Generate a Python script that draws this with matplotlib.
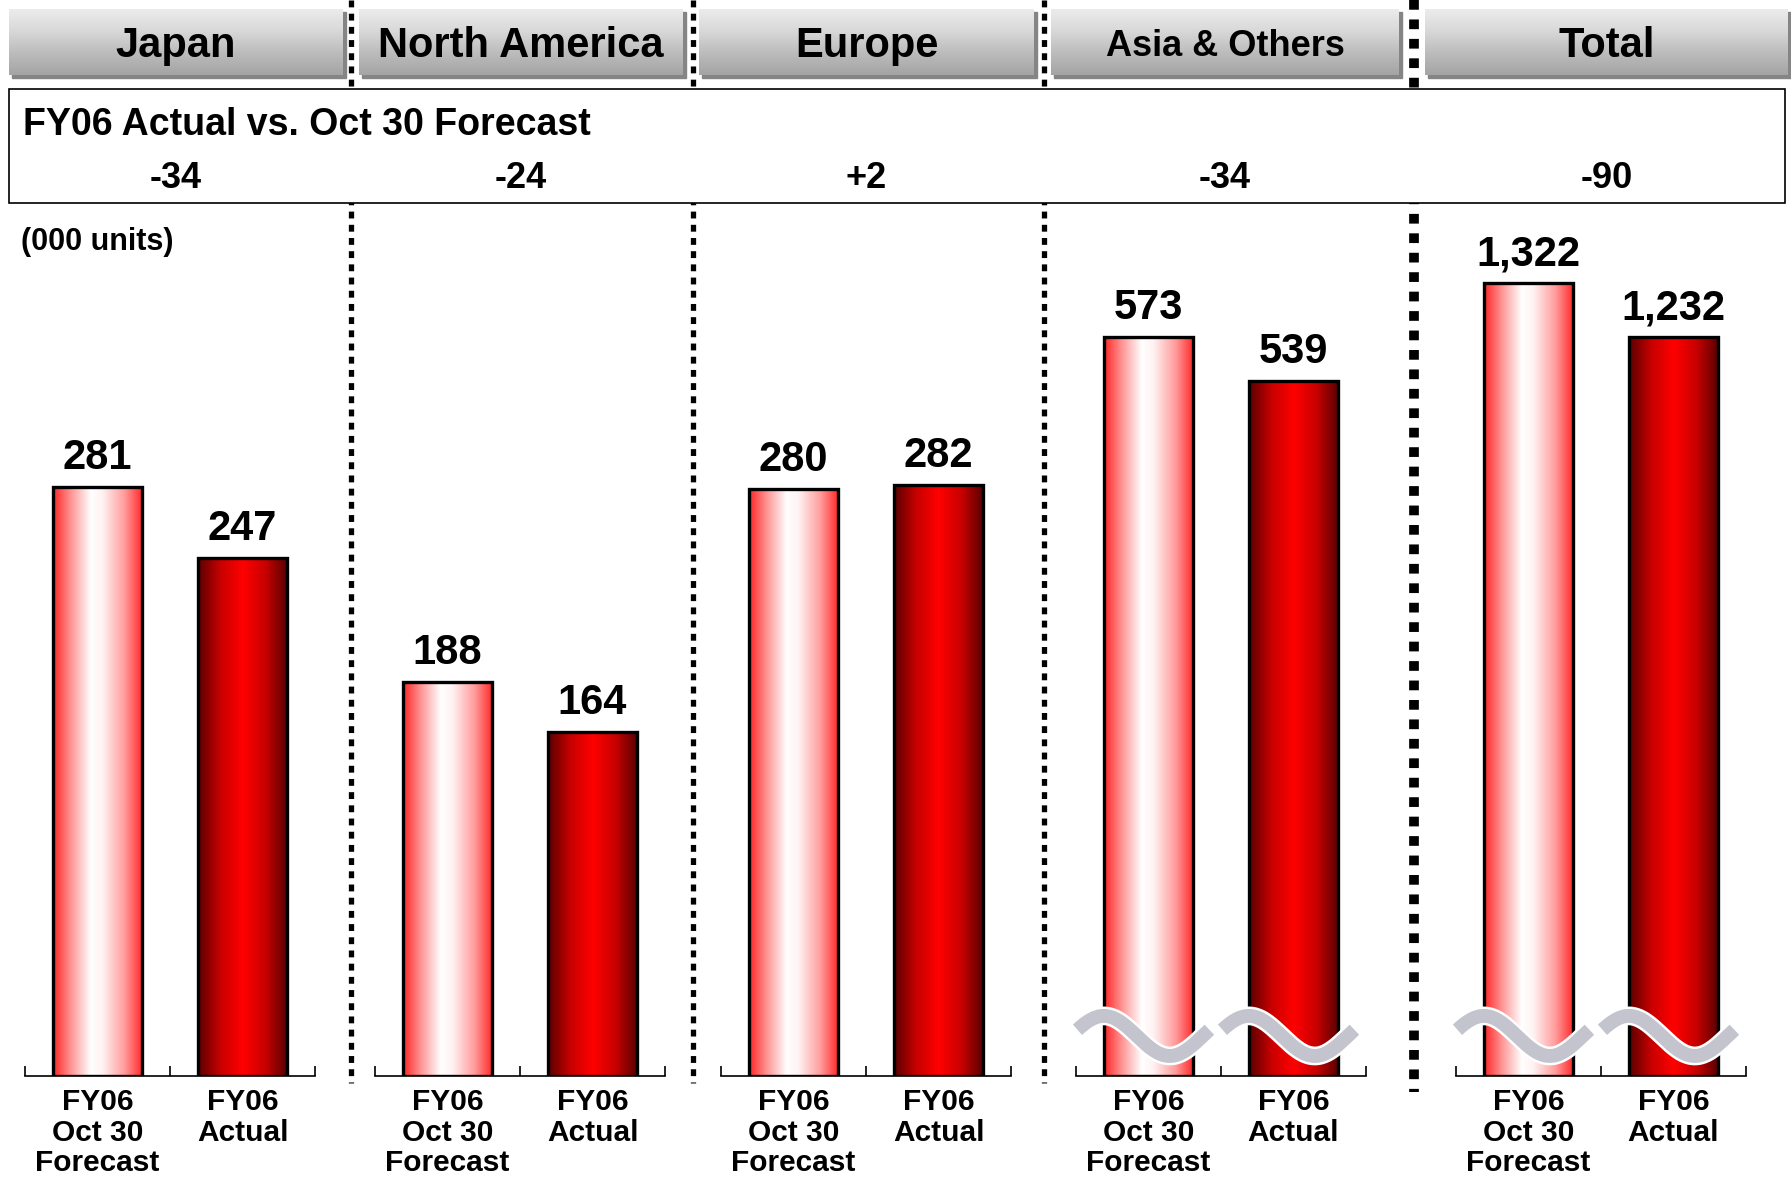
import numpy as np
import matplotlib
matplotlib.use("Agg")
import matplotlib.pyplot as plt
from matplotlib.colors import LinearSegmentedColormap
from matplotlib.patches import Rectangle
from matplotlib.transforms import blended_transform_factory
import matplotlib.patheffects as pe

plt.rcParams['font.family'] = ['Liberation Sans', 'DejaVu Sans']
plt.rcParams['font.weight'] = 'bold'

# ---------------- data ----------------
regions = ["Japan", "North America", "Europe", "Asia & Others", "Total"]
forecast = [281, 188, 280, 573, 1322]
actual = [247, 164, 282, 539, 1232]
diff_labels = ["-34", "-24", "+2", "-34", "-90"]
bar_labels = ["FY06\nOct 30\nForecast", "FY06\nActual"]
broken = [False, False, False, True, True]
ymax = [415.6, 415.6, 415.6, 675.3, 1452.6]
title = "FY06 Actual vs. Oct 30 Forecast"
unit_label = "(000 units)"

W, H = 1791, 1177
fig = plt.figure(figsize=(W / 100, H / 100), dpi=100)
bg = fig.add_axes([0, 0, 1, 1])
bg.set_xlim(0, W)
bg.set_ylim(H, 0)
bg.axis('off')

# layout (pixels)
tabs_x = [(9, 343), (359, 683), (699, 1034), (1051, 1399), (1425, 1788)]
tab_y = (9, 75)
tab_fs = [30, 30, 30, 26, 30]
box = (9, 89, 1785, 203)
seps = [(351, 'thin'), (693, 'thin'), (1044, 'thin'), (1414, 'thick')]
axes_x = [(25, 315), (375, 665), (721, 1011), (1076, 1366), (1456, 1746)]
base_y, top_y = 1076, 205

# separators
for x, kind in seps:
    if kind == 'thin':
        bg.plot([x, x], [0, 1083], color='black', lw=3.8, ls=(0, (1.3, 1.2)),
                solid_capstyle='butt', dash_capstyle='butt', zorder=1)
    else:
        bg.plot([x, x], [0, 1092], color='black', lw=7.0, ls=(0, (1.0, 1.0)),
                dash_capstyle='butt', zorder=1)

# tabs
tab_cmap = LinearSegmentedColormap.from_list('tab', ['#ececec', '#d8d8d8', '#bcbcbc', '#a4a4a4'])
grad_v = np.linspace(0, 1, 256).reshape(-1, 1)
for (x0, x1), name, fs in zip(tabs_x, regions, tab_fs):
    y0, y1 = tab_y
    bg.add_patch(Rectangle((x0 + 3, y0 + 3), x1 - x0, y1 - y0, color='#858585', zorder=2))
    bg.imshow(grad_v, cmap=tab_cmap, extent=(x0, x1, y1, y0), origin='upper',
              aspect='auto', zorder=3, interpolation='bilinear')
    bg.text((x0 + x1) / 2, (y0 + y1) / 2 + 4, name, ha='center', va='center',
            fontsize=fs, fontweight='bold', zorder=4)
bg.set_xlim(0, W)
bg.set_ylim(H, 0)

# box
bx0, by0, bx1, by1 = box
bg.add_patch(Rectangle((bx0, by0), bx1 - bx0, by1 - by0, facecolor='white',
                       edgecolor='black', lw=1.2, zorder=5))
bg.text(23, 125, title, ha='left', va='center', fontsize=27, fontweight='bold', zorder=6)
for (x0, x1), d in zip(tabs_x, diff_labels):
    bg.text((x0 + x1) / 2, 179, d, ha='center', va='center', fontsize=26,
            fontweight='bold', zorder=6)
bg.text(21, 242, unit_label, ha='left', va='center', fontsize=22, fontweight='bold')

# bar gradients
fc_cmap = LinearSegmentedColormap.from_list('fc', [
    (0.0, '#ff2626'), (0.2, '#ff9595'), (0.42, '#ffffff'), (0.55, '#fff2f2'),
    (0.8, '#ff9a9a'), (1.0, '#ff2626')])
ac_cmap = LinearSegmentedColormap.from_list('ac', [
    (0.0, '#5a0000'), (0.25, '#c80000'), (0.5, '#ff0000'), (0.75, '#c80000'),
    (1.0, '#560000')])
grad_h = np.linspace(0, 1, 256).reshape(1, -1)

for i in range(len(regions)):
    ax0, ax1 = axes_x[i]
    ax = fig.add_axes([ax0 / W, (H - base_y) / H, (ax1 - ax0) / W, (base_y - top_y) / H])
    ax.patch.set_visible(False)
    vals = [forecast[i], actual[i]]
    bars = ax.bar([0.5, 1.5], vals, width=0.62, facecolor='none', edgecolor='black',
                  linewidth=2.4, zorder=3)
    for b, cm in zip(bars, [fc_cmap, ac_cmap]):
        x, w, h = b.get_x(), b.get_width(), b.get_height()
        ax.imshow(grad_h, cmap=cm, extent=(x, x + w, 0, h), aspect='auto',
                  interpolation='bilinear', zorder=2)
    for b, v in zip(bars, vals):
        ax.annotate(f"{v:,}", (b.get_x() + b.get_width() / 2, b.get_height()),
                    xytext=(0, 13), textcoords='offset points', ha='center',
                    va='baseline', fontsize=30, fontweight='bold')
    ax.set_xlim(0, 2)
    ax.set_ylim(0, ymax[i])
    for s in ['top', 'left', 'right']:
        ax.spines[s].set_visible(False)
    ax.spines['bottom'].set_linewidth(1.2)
    ax.set_yticks([])
    ax.set_xticks([0.5, 1.5])
    ax.set_xticklabels(bar_labels, fontsize=21.5, fontweight='bold', linespacing=1.1)
    ax.tick_params(axis='x', which='major', length=0, pad=9)
    ax.set_xticks([0, 1, 2], minor=True)
    ax.tick_params(axis='x', which='minor', direction='in', length=7, width=1.2)
    if broken[i]:
        tr = blended_transform_factory(ax.transData, ax.transAxes)
        t = np.linspace(0, 1, 200)
        for b in bars:
            xs = b.get_x() - 0.18 + t * (b.get_width() + 0.29)
            ys = 0.046 + 0.023 * np.sin(2 * np.pi * (t + 0.05))
            ax.plot(xs, ys, transform=tr, color='#c4c4ce', lw=10, zorder=6,
                    solid_capstyle='butt', clip_on=False,
                    path_effects=[pe.Stroke(linewidth=13.5, foreground='white'), pe.Normal()])

fig.savefig("out.png", dpi=100)
